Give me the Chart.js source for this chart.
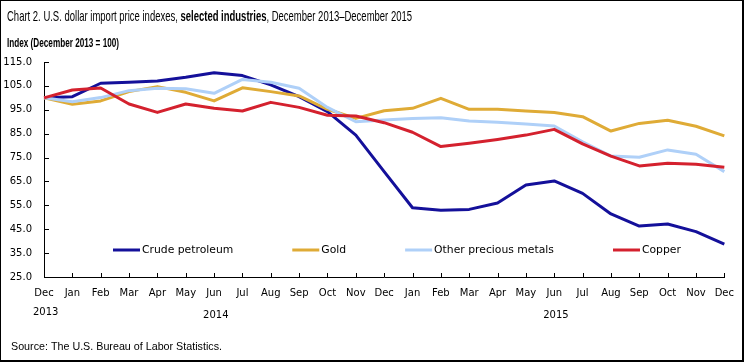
<!DOCTYPE html>
<html>
<head>
<meta charset="utf-8">
<script src="https://cdn.jsdelivr.net/npm/chart.js@4.4.1/dist/chart.umd.min.js"></script>
<style>
  html, body { margin: 0; padding: 0; background: #fff; }
  canvas { display: block; }
</style>
</head>
<body>
<canvas id="chart" width="744" height="362"></canvas>
<script>
const months = ['Dec','Jan','Feb','Mar','Apr','May','Jun','Jul','Aug','Sep','Oct','Nov',
                'Dec','Jan','Feb','Mar','Apr','May','Jun','Jul','Aug','Sep','Oct','Nov','Dec'];
const years = ['2013','2014','2015'];
const yearIndex = [0, 6, 18];

const crudePetroleum = [100, 100.5, 106.1, 106.5, 107.0, 108.6, 110.5, 109.3, 105.4, 100.5, 94.2, 84.4,
                        69.1, 54.0, 52.9, 53.3, 56.0, 63.5, 65.2, 60.0, 51.4, 46.3, 47.2, 44.0, 38.8];
const gold = [100, 97.3, 98.7, 102.6, 104.7, 102.3, 98.7, 104.2, 102.6, 100.8, 95.2, 91.4,
              94.6, 95.6, 99.8, 95.2, 95.2, 94.5, 93.9, 92.1, 86.1, 89.3, 90.6, 88.1, 84.1];
const otherPreciousMetals = [100, 98.4, 100.1, 103.0, 104.0, 103.8, 101.9, 107.7, 106.5, 104.0, 96.0, 90.0,
                             90.7, 91.3, 91.7, 90.3, 89.8, 89.0, 88.2, 81.6, 75.6, 75.1, 78.2, 76.4, 69.1];
const copper = [100, 103.3, 104.1, 97.4, 93.9, 97.4, 95.6, 94.5, 98.1, 96.0, 92.7, 92.4,
                89.6, 85.6, 79.6, 81.0, 82.6, 84.4, 86.8, 80.7, 75.6, 71.5, 72.6, 72.2, 70.9];

const yMin = 25, yMax = 115, yStep = 10;

const tickFont = { family: "'DejaVu Sans', Verdana, sans-serif", size: 10 };
const legendSize = 10.8;
const narrow = "'Liberation Sans Narrow', 'Liberation Sans', Arial, sans-serif";

// draws a run of text segments, squeezed to the given width
function drawRun(ctx, segs, x, y, width, size) {
  ctx.save();
  let total = 0;
  segs.forEach(s => {
    ctx.font = `${s.bold ? 'bold ' : ''}${size}px ${narrow}`;
    s.w = ctx.measureText(s.t).width;
    total += s.w;
  });
  const f = width / total;
  ctx.translate(x, y);
  ctx.scale(f, 1);
  ctx.fillStyle = '#000';
  ctx.textBaseline = 'alphabetic';
  let cx = 0;
  segs.forEach(s => {
    ctx.font = `${s.bold ? 'bold ' : ''}${size}px ${narrow}`;
    ctx.fillText(s.t, cx, 0);
    cx += s.w;
  });
  ctx.restore();
}

const decorations = {
  id: 'decorations',
  afterDraw(chart) {
    const { ctx, chartArea: a, scales: { x, y } } = chart;
    ctx.save();

    // tick marks pointing inward
    ctx.strokeStyle = '#000';
    ctx.lineWidth = 1;
    ctx.beginPath();
    x.ticks.forEach((t, i) => {
      const px = Math.round(x.getPixelForTick(i)) + 0.5;
      ctx.moveTo(px, a.bottom); ctx.lineTo(px, a.bottom - 4);
    });
    y.ticks.forEach((t, i) => {
      const py = Math.round(y.getPixelForTick(i)) + 0.5;
      ctx.moveTo(a.left, py); ctx.lineTo(a.left + 5, py);
    });
    ctx.stroke();

    // year labels
    ctx.font = `${tickFont.size}px ${tickFont.family}`;
    ctx.fillStyle = '#000';
    ctx.textAlign = 'left';
    ctx.textBaseline = 'middle';
    years.forEach((yr, i) => {
      const px = x.getPixelForValue(yearIndex[i]);
      ctx.fillText(yr, px - 11, i === 0 ? 312 : 315);
    });

    // legend inside plot area
    let lx = 113;
    const ly = 250;
    ctx.font = `${legendSize}px ${tickFont.family}`;
    chart.data.datasets.forEach(ds => {
      ctx.strokeStyle = ds.borderColor;
      ctx.lineWidth = 3;
      ctx.beginPath();
      ctx.moveTo(lx, ly); ctx.lineTo(lx + 27, ly);
      ctx.stroke();
      ctx.fillStyle = '#000';
      ctx.fillText(ds.label, lx + 29, ly);
      lx += 29 + ctx.measureText(ds.label).width + 59;
    });

    // titles and source
    drawRun(ctx, [
      { t: 'Chart 2. U.S. dollar import price indexes, ' },
      { t: 'selected industries', bold: true },
      { t: ', December 2013\u2013December 2015' }
    ], 7, 21, 405, 15);
    drawRun(ctx, [{ t: 'Index (December 2013 = 100)', bold: true }], 7, 47, 112, 12);
    drawRun(ctx, [{ t: 'Source: The U.S. Bureau of Labor Statistics.' }], 11, 350, 211, 11);

    // frame
    ctx.fillStyle = '#000';
    ctx.fillRect(0, 0, 744, 1);
    ctx.fillRect(0, 0, 1, 362);
    ctx.fillRect(742, 0, 2, 362);
    ctx.fillRect(0, 360, 744, 2);
    ctx.restore();
  }
};

const line = (label, data, color, order) => ({
  label, data, order,
  borderColor: color,
  backgroundColor: color,
  borderWidth: 3,
  borderJoinStyle: 'round',
  pointRadius: 0,
  tension: 0,
  fill: false
});

new Chart(document.getElementById('chart'), {
  type: 'line',
  data: {
    labels: months,
    datasets: [
      line('Crude petroleum', crudePetroleum, '#14109a', 4),
      line('Gold', gold, '#dfab36', 3),
      line('Other precious metals', otherPreciousMetals, '#afd0f8', 2),
      line('Copper', copper, '#d4212e', 1)
    ]
  },
  options: {
    responsive: false,
    animation: false,
    layout: { padding: { left: 0, top: 62, right: 19, bottom: 0 } },
    plugins: { legend: { display: false }, tooltip: { enabled: false } },
    scales: {
      x: {
        grid: { display: false, drawTicks: false },
        border: { color: '#000', width: 1 },
        ticks: { font: tickFont, color: '#000', padding: 10, maxRotation: 0, autoSkip: false },
        afterFit: s => { s.height = 85; }
      },
      y: {
        min: yMin, max: yMax,
        grid: { display: false, drawTicks: false },
        border: { color: '#000', width: 1 },
        ticks: { stepSize: yStep, font: tickFont, color: '#000', padding: 12,
                 callback: v => v.toFixed(1) },
        afterFit: s => { s.width = 44; }
      }
    }
  },
  plugins: [decorations]
});
</script>
</body>
</html>
